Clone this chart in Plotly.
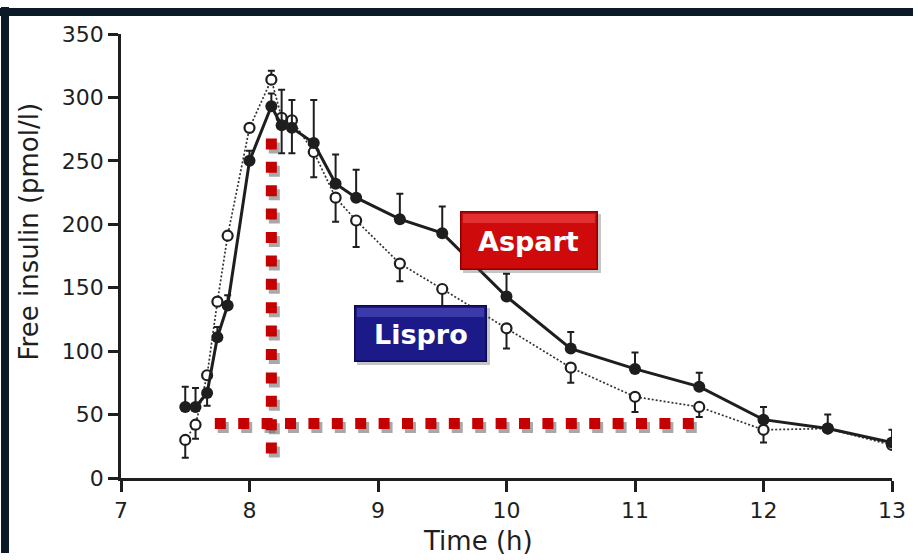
import plotly.graph_objects as go

# Sampling times (hours of day)
time_h = [7.5, 7.58, 7.67, 7.75, 7.83, 8.0, 8.17, 8.25, 8.33, 8.5, 8.67, 8.83,
          9.17, 9.5, 10, 10.5, 11, 11.5, 12, 12.5, 13]

# Free insulin (pmol/l)
aspart = [56, 56, 67, 111, 136, 250, 293, 278, 276, 264, 232, 221,
          204, 193, 143, 102, 86, 72, 46, 39, 28]
aspart_err_up = [16, 15, 0, 8, 8, 8, 10, 28, 22, 34, 23, 22,
                 20, 21, 18, 13, 13, 11, 10, 11, 10]
aspart_err_down = [0, 0, 10, 0, 0, 0, 0, 0, 0, 0, 0, 0,
                   0, 0, 0, 0, 0, 0, 0, 0, 0]

lispro = [30, 42, 81, 139, 191, 276, 314, 284, 282, 257, 221, 203,
          169, 149, 118, 87, 64, 56, 38, 39, 26]
lispro_err_up = [0, 0, 0, 0, 0, 0, 7, 0, 0, 0, 0, 0,
                 0, 0, 0, 0, 0, 0, 0, 0, 0]
lispro_err_down = [14, 11, 0, 0, 0, 0, 0, 28, 26, 20, 19, 21,
                   14, 15, 16, 12, 12, 8, 10, 0, 0]

# Reference guides: time of peak and the baseline level
peak_time = 8.17
peak_guide_y = [267.7, 12.6]
baseline_level = 43
baseline_guide_x = [7.73, 11.5]

x_ticks = [7, 8, 9, 10, 11, 12, 13]
y_ticks = [0, 50, 100, 150, 200, 250, 300, 350]

# Page geometry (pixels)
FIG_W, FIG_H = 918, 560
L, R, T, B = 121, 902, 33.5, 478
PW, PH = R - L, B - T
X_RANGE = [7, 13]
Y_RANGE = [0, 350]


def px_x(px):
    return (px - L) / PW


def px_y(py):
    return (B - py) / PH


# data units per pixel, used for drop-shadow offsets
DX = (X_RANGE[1] - X_RANGE[0]) / PW
DY = (Y_RANGE[1] - Y_RANGE[0]) / PH

FONT = "DejaVu Sans"
INK = "#1e1e1e"

fig = go.Figure()

fig.add_trace(go.Scatter(
    x=time_h, y=lispro, mode="lines+markers", name="Lispro",
    line=dict(color="#333333", width=1.7, dash="2px,2px"),
    marker=dict(symbol="circle", size=10, color="white",
                line=dict(color=INK, width=2.2)),
    error_y=dict(type="data", symmetric=False, array=lispro_err_up,
                 arrayminus=lispro_err_down, color=INK, thickness=2, width=3.5),
))

fig.add_trace(go.Scatter(
    x=time_h, y=aspart, mode="lines+markers", name="Aspart",
    line=dict(color=INK, width=3),
    marker=dict(symbol="circle", size=12, color=INK),
    error_y=dict(type="data", symmetric=False, array=aspart_err_up,
                 arrayminus=aspart_err_down, color=INK, thickness=2, width=3.5),
))

# dotted red guides with a soft grey shadow (data coordinates, inside the plot)
shapes = []
guide_dash = "11px,12.4px"
for dx, dy, col in [(3 * DX, -4 * DY, "rgba(110,110,110,0.6)"), (0, 0, "#c40000")]:
    shapes.append(dict(type="line", xref="x", yref="y",
                       x0=peak_time + dx, x1=peak_time + dx,
                       y0=peak_guide_y[0] + dy, y1=peak_guide_y[1] + dy,
                       line=dict(color=col, width=11, dash=guide_dash), layer="above"))
    shapes.append(dict(type="line", xref="x", yref="y",
                       x0=baseline_guide_x[0] + dx, x1=baseline_guide_x[1] + dx,
                       y0=baseline_level + dy, y1=baseline_level + dy,
                       line=dict(color=col, width=11, dash=guide_dash), layer="above"))

annotations = []


def panel(x0, y0, x1, y1, fill, edge=None, edge_w=0):
    """Solid block given in page pixels, drawn as an empty annotation box."""
    bw = edge_w if edge else 0
    annotations.append(dict(
        text=" ", xref="paper", yref="paper",
        x=px_x((x0 + x1) / 2), y=px_y((y0 + y1) / 2),
        xanchor="center", yanchor="middle", showarrow=False,
        width=max(x1 - x0 - 2 * bw, 1), height=max(y1 - y0 - 2 * bw, 1),
        bgcolor=fill, bordercolor=edge or fill, borderwidth=bw, borderpad=0,
        font=dict(size=1, color=fill),
    ))


# outer frame: dark bar along the top and the left edge
FRAME = "#0c1a27"
panel(0, 7, 917, 15, FRAME)
panel(0, 7, 8, 553, FRAME)

# series label boxes with shadow and highlight
boxes = [
    ("Aspart", (465, 211, 603, 270), "#cf0a0a", "#8c0000", "rgba(255,120,120,0.35)"),
    ("Lispro", (358, 305, 491, 362), "#1b1a88", "#0b0a50", "rgba(120,120,230,0.35)"),
]
for text, (x0, y0, x1, y1), fill, edge, glow in boxes:
    panel(x0 + 3, y0 + 3, x1 + 3, y1 + 3, "rgba(90,90,90,0.35)")
    panel(x0, y0, x1, y1, fill, edge, 1.5)
    panel(x0 + 3, y0 + 3, x1 - 3, y0 + 12, glow)
    annotations.append(dict(text=f"<b>{text}</b>", xref="paper", yref="paper",
                            x=px_x((x0 + x1) / 2), y=px_y((y0 + y1) / 2 + 1),
                            xanchor="center", yanchor="middle", showarrow=False,
                            font=dict(family=FONT, size=27, color="white")))

# axis titles
annotations.append(dict(text="Time (h)", xref="paper", yref="paper",
                        x=px_x(483), y=px_y(541), xanchor="center", yanchor="middle",
                        showarrow=False, font=dict(family=FONT, size=26, color=INK)))
annotations.append(dict(text="Free insulin (pmol/l)", xref="paper", yref="paper",
                        x=px_x(28), y=px_y(231), xanchor="center", yanchor="middle",
                        textangle=-90, showarrow=False,
                        font=dict(family=FONT, size=26, color=INK)))

fig.update_layout(
    width=FIG_W, height=FIG_H, autosize=False,
    margin=dict(l=L, r=FIG_W - R, t=T, b=FIG_H - B, pad=0),
    paper_bgcolor="white", plot_bgcolor="white",
    showlegend=False,
    shapes=shapes, annotations=annotations,
    font=dict(family=FONT, color=INK),
)

fig.update_xaxes(
    range=X_RANGE, tickvals=x_ticks, ticktext=[str(v) for v in x_ticks],
    showgrid=False, zeroline=False,
    showline=True, linecolor=INK, linewidth=2.5,
    ticks="outside", ticklen=11, tickwidth=2.5, tickcolor=INK,
    tickfont=dict(family=FONT, size=22, color=INK),
)
fig.update_yaxes(
    range=Y_RANGE, tickvals=y_ticks, ticktext=[str(v) for v in y_ticks],
    showgrid=False, zeroline=False,
    showline=True, linecolor=INK, linewidth=2.5,
    ticks="outside", ticklen=10, tickwidth=2.5, tickcolor=INK,
    tickfont=dict(family=FONT, size=22, color=INK),
)

fig.write_html("out.html", config={"responsive": False})
